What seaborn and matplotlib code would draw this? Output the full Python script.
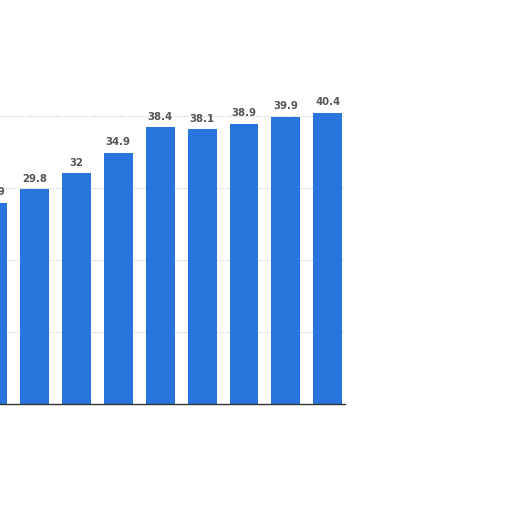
import matplotlib
matplotlib.use("Agg")
import matplotlib.pyplot as plt
import seaborn as sns
import pandas as pd

categories = ["c0", "c1", "c2", "c3", "c4", "c5", "c6", "c7", "c8"]
values = [27.9, 29.8, 32, 34.9, 38.4, 38.1, 38.9, 39.9, 40.4]
labels = ["27.9", "29.8", "32", "34.9", "38.4", "38.1", "38.9", "39.9", "40.4"]

df = pd.DataFrame({"cat": categories, "val": values})

sns.set_theme(style="white")
plt.rcParams["font.family"] = ["DejaVu Sans"]

fig = plt.figure(figsize=(5.12, 5.12), dpi=100)
W = H = 512.0
left_px, right_px = 0, 345
bottom_px, top_px = 404, 105
ax = fig.add_axes([left_px / W, 1 - bottom_px / H, (right_px - left_px) / W, (bottom_px - top_px) / H])

sns.barplot(data=df, x="cat", y="val", color="#2876dd", width=0.69, ax=ax,
            saturation=1, linewidth=0)

ax.set_xlim(0.177, 8.41)
ax.set_ylim(0, 41.5)
ax.set_yticks([10, 20, 30, 40])
ax.yaxis.grid(True, color="#c8c8c8", linestyle=(0, (1, 1.5)), linewidth=0.8)
ax.set_axisbelow(True)
ax.set_xticks([])
ax.set_yticklabels([])
ax.tick_params(left=False, bottom=False)
ax.set_xlabel("")
ax.set_ylabel("")
for s in ["top", "right", "left"]:
    ax.spines[s].set_visible(False)
ax.spines["bottom"].set_color("#333333")
ax.spines["bottom"].set_linewidth(1.0)

for i, (v, lab) in enumerate(zip(values, labels)):
    ax.text(i, v + 0.8, lab, ha="center", va="bottom", fontsize=7.3, fontweight="bold",
            color="#555555", clip_on=False)

fig.savefig("out.png", dpi=100)
